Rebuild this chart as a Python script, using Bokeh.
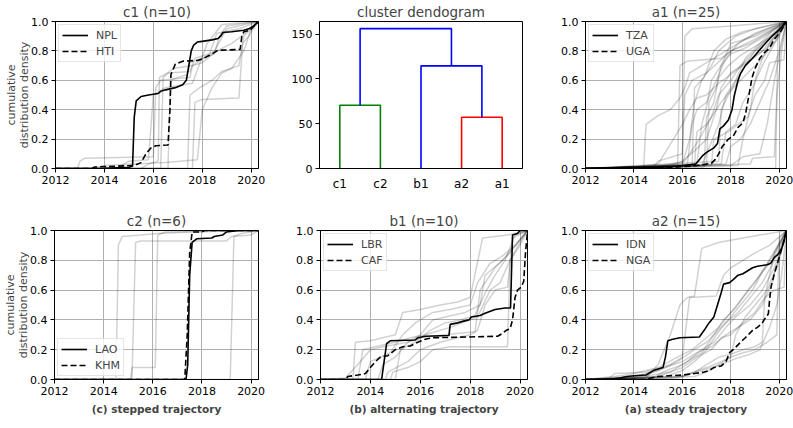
from bokeh.plotting import figure
from bokeh.layouts import row, column
from bokeh.models import FixedTicker, PrintfTickFormatter, Legend, LegendItem, LinearAxis
from bokeh.embed import file_html
from bokeh.resources import INLINE

FONT = "DejaVu Sans"
YEAR_TICKS = [2012, 2014, 2016, 2018, 2020]
Y_TICKS = [0.0, 0.2, 0.4, 0.6, 0.8, 1.0]
X_MIN, X_MAX = 2012.0, 2020.3

# ---------------- panel c1 (n=10) ----------------
NPL_X = [2012, 2014.0, 2015.0, 2015.15, 2015.22, 2015.3, 2015.5, 2015.8, 2016.2, 2016.3, 2016.5, 2016.9, 2017.2, 2017.35, 2017.45, 2017.55, 2017.65, 2017.8, 2018.0, 2018.4, 2018.65, 2018.75, 2018.85, 2019.2, 2019.7, 2019.9, 2020.1, 2020.3]
NPL_Y = [0, 0.002, 0.008, 0.015, 0.35, 0.46, 0.49, 0.5, 0.51, 0.525, 0.535, 0.55, 0.57, 0.6, 0.7, 0.8, 0.84, 0.86, 0.865, 0.875, 0.885, 0.9, 0.925, 0.93, 0.94, 0.95, 0.97, 1.0]
HTI_X = [2012, 2013.5, 2013.6, 2015.2, 2015.5, 2015.7, 2015.9, 2016.1, 2016.6, 2016.68, 2016.72, 2016.9, 2017.2, 2017.8, 2018.0, 2018.3, 2018.6, 2018.8, 2019.55, 2019.62, 2019.7, 2019.95, 2020.3]
HTI_Y = [0, 0, 0.01, 0.02, 0.04, 0.1, 0.14, 0.155, 0.16, 0.4, 0.64, 0.71, 0.73, 0.735, 0.745, 0.77, 0.8, 0.805, 0.81, 0.9, 0.93, 0.94, 1.0]
C1_GRAY = [
    [(2012, 0), (2012.9, 0), (2013.0, 0.05), (2013.2, 0.07), (2016.0, 0.08), (2016.1, 0.55), (2016.3, 0.6), (2017.5, 0.62), (2017.6, 0.7), (2018.5, 0.8), (2019.0, 0.95), (2020.3, 1.0)],
    [(2012, 0), (2015.5, 0), (2015.8, 0.03), (2016.2, 0.05), (2016.25, 0.62), (2016.6, 0.65), (2017.5, 0.66), (2017.7, 0.75), (2018.3, 0.78), (2018.6, 0.92), (2019.5, 0.95), (2020.3, 1.0)],
    [(2012, 0), (2016.3, 0), (2016.4, 0.62), (2016.8, 0.68), (2017.6, 0.7), (2018.0, 0.72), (2018.6, 0.8), (2019.2, 0.85), (2019.6, 0.9), (2020.3, 1.0)],
    [(2012, 0), (2017.4, 0), (2017.5, 0.5), (2017.9, 0.55), (2018.4, 0.6), (2018.8, 0.66), (2019.5, 0.7), (2019.7, 0.9), (2020.3, 1.0)],
    [(2012, 0), (2017.6, 0), (2017.7, 0.45), (2018.0, 0.47), (2019.5, 0.48), (2019.65, 0.85), (2019.9, 0.9), (2020.3, 1.0)],
    [(2012, 0), (2013.5, 0), (2014.0, 0.02), (2016.5, 0.04), (2017.8, 0.06), (2018.0, 0.4), (2018.4, 0.55), (2018.8, 0.65), (2019.2, 0.68), (2019.7, 0.8), (2020.0, 0.95), (2020.3, 1.0)],
    [(2012, 0), (2016.6, 0), (2016.7, 0.6), (2017.0, 0.62), (2017.4, 0.64), (2017.5, 0.72), (2018.5, 0.78), (2018.7, 0.9), (2019.0, 0.97), (2020.3, 1.0)],
    [(2012, 0), (2014.5, 0), (2015.0, 0.05), (2015.8, 0.06), (2016.0, 0.5), (2016.5, 0.55), (2017.6, 0.58), (2018.2, 0.85), (2018.8, 0.98), (2020.3, 1.0)],
]

# ---------------- panel c2 (n=6) ----------------
LAO_X = [2012, 2017.35, 2017.42, 2017.5, 2017.6, 2017.8, 2018.4, 2018.5, 2018.85, 2019.0, 2019.5, 2020.3]
LAO_Y = [0, 0, 0.1, 0.7, 0.92, 0.945, 0.95, 0.96, 0.97, 0.99, 1.0, 1.0]
KHM_X = [2012, 2017.3, 2017.4, 2017.5, 2017.6, 2018.0, 2018.1, 2020.3]
KHM_Y = [0, 0, 0.3, 0.85, 0.99, 0.99, 1.0, 1.0]
C2_GRAY = [
    [(2012, 0), (2014.5, 0), (2014.6, 0.9), (2014.75, 0.96), (2015.5, 0.97), (2016.2, 0.98), (2017.5, 0.99), (2020.3, 1.0)],
    [(2012, 0), (2015.15, 0), (2015.3, 0.92), (2015.5, 0.93), (2019.0, 0.93), (2019.2, 0.96), (2020.0, 0.97), (2020.3, 1.0)],
    [(2012, 0), (2015.1, 0), (2015.15, 0.08), (2016.1, 0.08), (2016.2, 0.97), (2016.5, 0.99), (2020.3, 1.0)],
    [(2012, 0), (2019.15, 0), (2019.3, 0.96), (2019.6, 0.98), (2020.3, 1.0)],
]

# ---------------- panel a1 (n=25) ----------------
TZA_X = [2012, 2014.0, 2015.0, 2015.5, 2016.0, 2016.55, 2016.7, 2016.85, 2017.0, 2017.3, 2017.45, 2017.55, 2017.7, 2017.9, 2018.05, 2018.15, 2018.3, 2018.4, 2018.6, 2018.9, 2019.15, 2019.45, 2019.7, 2019.9, 2020.1, 2020.3]
TZA_Y = [0, 0.003, 0.008, 0.012, 0.02, 0.03, 0.06, 0.09, 0.11, 0.14, 0.17, 0.27, 0.29, 0.33, 0.4, 0.5, 0.6, 0.645, 0.7, 0.75, 0.8, 0.855, 0.9, 0.93, 0.96, 1.0]
UGA_X = [2012, 2015.0, 2016.0, 2016.6, 2017.2, 2017.35, 2017.5, 2017.65, 2017.9, 2018.1, 2018.3, 2018.5, 2018.62, 2018.75, 2018.88, 2019.0, 2019.2, 2019.4, 2019.6, 2019.8, 2020.05, 2020.3]
UGA_Y = [0, 0.003, 0.012, 0.02, 0.035, 0.06, 0.1, 0.15, 0.2, 0.22, 0.28, 0.31, 0.38, 0.5, 0.62, 0.68, 0.75, 0.79, 0.82, 0.88, 0.93, 1.0]
A1_GRAY = [
    [(2012, 0), (2015.8, 0.01), (2015.9, 0.7), (2016.2, 0.73), (2017.6, 0.75), (2018.0, 0.8), (2018.8, 0.85), (2019.5, 0.92), (2020.3, 1)],
    [(2012, 0), (2016.0, 0.02), (2016.1, 0.9), (2016.4, 0.95), (2018.0, 0.97), (2020.3, 1)],
    [(2012, 0), (2014.4, 0.01), (2014.5, 0.3), (2015.0, 0.36), (2015.5, 0.4), (2015.9, 0.48), (2016.1, 0.55), (2016.3, 0.65), (2017.0, 0.72), (2017.8, 0.8), (2018.6, 0.88), (2019.5, 0.95), (2020.3, 1)],
    [(2012, 0), (2016.0, 0.03), (2016.3, 0.2), (2016.5, 0.45), (2016.8, 0.6), (2017.2, 0.7), (2017.5, 0.8), (2018.2, 0.9), (2019.0, 0.95), (2020.3, 1)],
    [(2012, 0), (2016.4, 0.02), (2016.5, 0.55), (2016.9, 0.62), (2017.3, 0.8), (2017.8, 0.88), (2018.5, 0.93), (2020.3, 1)],
    [(2012, 0), (2016.6, 0.03), (2016.8, 0.3), (2017.0, 0.42), (2017.2, 0.6), (2017.6, 0.7), (2018.0, 0.85), (2019.0, 0.9), (2020.3, 1)],
    [(2012, 0), (2017.0, 0.02), (2017.1, 0.45), (2017.4, 0.55), (2017.6, 0.7), (2018.0, 0.78), (2018.6, 0.82), (2019.4, 0.9), (2020.3, 1)],
    [(2012, 0), (2016.8, 0.02), (2017.0, 0.1), (2017.5, 0.3), (2017.8, 0.5), (2018.2, 0.6), (2018.6, 0.75), (2019.2, 0.85), (2019.8, 0.95), (2020.3, 1)],
    [(2012, 0), (2017.6, 0.03), (2017.8, 0.25), (2018.2, 0.3), (2018.5, 0.45), (2018.9, 0.55), (2019.3, 0.7), (2019.8, 0.85), (2020.3, 1)],
    [(2012, 0), (2015.0, 0.01), (2016.0, 0.05), (2016.5, 0.12), (2017.0, 0.2), (2017.4, 0.4), (2017.6, 0.55), (2018.0, 0.65), (2018.6, 0.72), (2019.3, 0.8), (2020.3, 1)],
    [(2012, 0), (2018.0, 0.02), (2018.5, 0.08), (2019.2, 0.1), (2019.5, 0.3), (2019.8, 0.6), (2020.1, 0.85), (2020.3, 1)],
    [(2012, 0), (2019.85, 0), (2019.95, 0.95), (2020.3, 1)],
    [(2012, 0), (2017.2, 0.02), (2017.3, 0.2), (2017.9, 0.25), (2018.7, 0.35), (2019.0, 0.5), (2019.4, 0.6), (2019.6, 0.72), (2020.2, 0.74), (2020.3, 1)],
    [(2012, 0), (2016.2, 0.02), (2016.4, 0.3), (2016.6, 0.4), (2017.0, 0.45), (2017.4, 0.6), (2017.8, 0.75), (2018.3, 0.85), (2019.0, 0.92), (2020.3, 1)],
    [(2012, 0), (2014.8, 0.01), (2015.0, 0.05), (2016.0, 0.1), (2016.1, 0.5), (2016.4, 0.6), (2017.0, 0.65), (2018.0, 0.8), (2019.0, 0.88), (2020.3, 1)],
    [(2012, 0), (2018.3, 0.02), (2018.5, 0.2), (2018.8, 0.4), (2019.0, 0.6), (2019.3, 0.75), (2019.6, 0.85), (2020.3, 1)],
    [(2012, 0), (2017.5, 0.05), (2017.6, 0.4), (2017.9, 0.5), (2018.3, 0.62), (2018.6, 0.7), (2019.0, 0.8), (2019.6, 0.9), (2020.3, 1)],
    [(2012, 0), (2018.8, 0.03), (2018.9, 0.07), (2019.8, 0.08), (2019.9, 0.5), (2020.1, 0.8), (2020.3, 1)],
    [(2012, 0), (2015.5, 0.02), (2016.1, 0.05), (2016.7, 0.2), (2017.2, 0.35), (2017.5, 0.5), (2018.0, 0.6), (2018.4, 0.7), (2019.0, 0.8), (2019.8, 0.92), (2020.3, 1)],
    [(2012, 0), (2016.9, 0.01), (2017.0, 0.35), (2017.3, 0.45), (2017.5, 0.62), (2017.9, 0.7), (2018.4, 0.77), (2019.0, 0.83), (2019.7, 0.9), (2020.3, 1)],
    [(2012, 0), (2017.8, 0.03), (2018.0, 0.15), (2018.4, 0.2), (2018.8, 0.3), (2019.2, 0.45), (2019.6, 0.6), (2020.0, 0.8), (2020.3, 1)],
    [(2012, 0), (2016.5, 0.02), (2016.6, 0.25), (2017.0, 0.3), (2017.6, 0.45), (2018.1, 0.55), (2018.7, 0.65), (2019.3, 0.75), (2020.0, 0.9), (2020.3, 1)],
    [(2012, 0), (2014.0, 0.01), (2015.0, 0.03), (2016.0, 0.3), (2016.3, 0.4), (2016.6, 0.48), (2017.0, 0.5), (2017.5, 0.58), (2018.5, 0.7), (2019.5, 0.82), (2020.3, 1)],
]

# ---------------- panel b1 (n=10) ----------------
LBR_X = [2012, 2014.45, 2014.55, 2014.65, 2014.8, 2015.8, 2015.9, 2016.2, 2017.15, 2017.2, 2017.5, 2017.7, 2017.95, 2018.05, 2018.4, 2018.6, 2019.0, 2019.4, 2019.62, 2019.7, 2019.9, 2020.0, 2020.3]
LBR_Y = [0, 0, 0.12, 0.24, 0.26, 0.265, 0.28, 0.29, 0.295, 0.37, 0.38, 0.39, 0.4, 0.42, 0.43, 0.445, 0.47, 0.48, 0.48, 0.97, 0.98, 1.0, 1.0]
CAF_X = [2012, 2013.0, 2013.1, 2013.5, 2013.8, 2014.0, 2014.2, 2014.4, 2014.7, 2015.0, 2015.3, 2015.6, 2015.9, 2016.2, 2016.5, 2019.1, 2019.3, 2019.45, 2019.6, 2019.7, 2019.8, 2019.9, 2020.05, 2020.15, 2020.22, 2020.3]
CAF_Y = [0, 0, 0.02, 0.03, 0.04, 0.08, 0.12, 0.15, 0.16, 0.2, 0.22, 0.225, 0.25, 0.27, 0.28, 0.29, 0.31, 0.33, 0.34, 0.4, 0.55, 0.6, 0.62, 0.66, 0.85, 1.0]
B1_GRAY = [
    [(2012, 0), (2013.3, 0), (2013.4, 0.25), (2014.0, 0.26), (2015.0, 0.3), (2015.3, 0.45), (2016.0, 0.47), (2016.8, 0.5), (2017.5, 0.52), (2018.0, 0.55), (2018.5, 0.95), (2019.5, 0.97), (2020.3, 1)],
    [(2012, 0), (2013.0, 0.01), (2013.5, 0.1), (2014.0, 0.2), (2014.5, 0.22), (2015.5, 0.25), (2016.0, 0.28), (2017.0, 0.3), (2018.2, 0.32), (2018.4, 0.6), (2019.0, 0.75), (2019.6, 0.85), (2020.3, 1)],
    [(2012, 0), (2014.3, 0), (2014.5, 0.1), (2015.0, 0.15), (2015.5, 0.25), (2016.0, 0.3), (2016.5, 0.4), (2017.0, 0.42), (2017.8, 0.45), (2018.4, 0.5), (2018.6, 0.7), (2019.3, 0.8), (2019.8, 0.9), (2020.3, 1)],
    [(2012, 0), (2014.8, 0), (2014.9, 0.05), (2015.5, 0.08), (2016.0, 0.12), (2016.5, 0.2), (2017.2, 0.22), (2019.5, 0.22), (2019.6, 0.8), (2020.0, 0.9), (2020.3, 1)],
    [(2012, 0), (2013.5, 0), (2013.7, 0.2), (2014.2, 0.22), (2015.0, 0.25), (2015.6, 0.28), (2016.2, 0.3), (2017.2, 0.35), (2018.0, 0.4), (2018.3, 0.42), (2018.8, 0.6), (2019.2, 0.65), (2019.6, 0.8), (2020.1, 0.95), (2020.3, 1)],
    [(2012, 0), (2014.6, 0), (2014.7, 0.05), (2015.5, 0.12), (2016.0, 0.2), (2016.8, 0.25), (2017.5, 0.28), (2018.0, 0.3), (2018.3, 0.33), (2018.6, 0.5), (2019.0, 0.6), (2019.5, 0.62), (2019.7, 0.95), (2020.3, 1)],
    [(2012, 0), (2013.8, 0), (2014.0, 0.12), (2014.8, 0.18), (2015.3, 0.3), (2015.8, 0.38), (2016.5, 0.45), (2017.2, 0.47), (2018.0, 0.5), (2018.3, 0.65), (2018.8, 0.78), (2019.3, 0.83), (2019.8, 0.9), (2020.3, 1)],
    [(2012, 0), (2015.0, 0), (2015.2, 0.2), (2015.8, 0.25), (2016.4, 0.33), (2017.0, 0.38), (2017.6, 0.4), (2018.2, 0.43), (2018.6, 0.58), (2019.0, 0.7), (2019.4, 0.8), (2019.8, 0.97), (2020.3, 1)],
]

# ---------------- panel a2 (n=15) ----------------
IDN_X = [2012, 2013.0, 2013.4, 2013.7, 2014.0, 2014.5, 2014.6, 2014.8, 2015.0, 2015.2, 2015.3, 2015.4, 2015.6, 2015.9, 2016.7, 2016.9, 2017.1, 2017.3, 2017.45, 2017.6, 2017.7, 2017.95, 2018.1, 2018.3, 2018.5, 2018.7, 2018.9, 2019.1, 2019.5, 2019.65, 2019.8, 2019.95, 2020.1, 2020.2, 2020.3]
IDN_Y = [0, 0.002, 0.01, 0.02, 0.025, 0.03, 0.04, 0.06, 0.07, 0.08, 0.15, 0.26, 0.27, 0.28, 0.285, 0.33, 0.38, 0.42, 0.5, 0.58, 0.64, 0.65, 0.67, 0.7, 0.71, 0.73, 0.75, 0.76, 0.77, 0.78, 0.82, 0.84, 0.88, 0.93, 1.0]
NGA_X = [2012, 2014.5, 2014.7, 2015.0, 2016.0, 2016.5, 2016.9, 2017.1, 2017.3, 2017.6, 2017.8, 2017.95, 2018.1, 2018.4, 2018.6, 2018.9, 2019.1, 2019.3, 2019.45, 2019.55, 2019.6, 2019.66, 2019.8, 2020.0, 2020.14, 2020.3]
NGA_Y = [0, 0, 0.01, 0.02, 0.03, 0.04, 0.05, 0.06, 0.08, 0.09, 0.12, 0.18, 0.2, 0.25, 0.28, 0.33, 0.35, 0.38, 0.42, 0.44, 0.53, 0.62, 0.71, 0.82, 0.9, 1.0]
A2_GRAY = [
    [(2012, 0), (2014.5, 0.01), (2015.0, 0.1), (2015.5, 0.3), (2015.9, 0.5), (2016.2, 0.55), (2016.5, 0.56), (2016.8, 0.88), (2017.5, 0.92), (2018.5, 0.95), (2020.3, 1)],
    [(2012, 0), (2013.2, 0.02), (2014.0, 0.04), (2015.0, 0.08), (2015.8, 0.15), (2016.4, 0.2), (2017.0, 0.28), (2017.5, 0.35), (2018.0, 0.45), (2018.5, 0.55), (2019.0, 0.65), (2019.5, 0.78), (2020.3, 1)],
    [(2012, 0), (2014.0, 0.01), (2015.5, 0.05), (2016.2, 0.12), (2016.8, 0.2), (2017.3, 0.25), (2017.8, 0.35), (2018.2, 0.42), (2018.8, 0.5), (2019.3, 0.6), (2019.8, 0.75), (2020.3, 1)],
    [(2012, 0), (2015.0, 0.02), (2016.0, 0.08), (2016.6, 0.15), (2017.2, 0.2), (2017.6, 0.28), (2018.0, 0.3), (2018.5, 0.38), (2019.0, 0.45), (2019.4, 0.55), (2019.8, 0.85), (2020.3, 1)],
    [(2012, 0), (2013.0, 0.01), (2013.2, 0.04), (2014.5, 0.05), (2015.5, 0.1), (2016.0, 0.15), (2016.3, 0.55), (2017.4, 0.56), (2017.7, 0.7), (2018.0, 0.75), (2018.5, 0.8), (2019.0, 0.85), (2019.6, 0.9), (2020.3, 1)],
    [(2012, 0), (2016.0, 0.02), (2016.5, 0.05), (2017.0, 0.1), (2017.5, 0.15), (2018.0, 0.17), (2018.5, 0.2), (2019.0, 0.22), (2019.3, 0.25), (2019.4, 0.55), (2019.8, 0.6), (2020.2, 0.62), (2020.3, 1)],
    [(2012, 0), (2014.8, 0.01), (2015.2, 0.05), (2016.0, 0.1), (2016.8, 0.18), (2017.3, 0.3), (2017.7, 0.4), (2018.2, 0.48), (2018.7, 0.6), (2019.2, 0.7), (2019.7, 0.8), (2020.3, 1)],
    [(2012, 0), (2015.8, 0.01), (2016.3, 0.04), (2017.0, 0.08), (2017.6, 0.12), (2018.0, 0.15), (2018.5, 0.18), (2019.0, 0.2), (2019.5, 0.25), (2019.9, 0.3), (2020.0, 0.95), (2020.3, 1)],
    [(2012, 0), (2015.3, 0.02), (2016.0, 0.06), (2016.5, 0.12), (2017.0, 0.2), (2017.4, 0.3), (2017.8, 0.38), (2018.3, 0.45), (2018.8, 0.55), (2019.3, 0.65), (2019.8, 0.8), (2020.3, 1)],
    [(2012, 0), (2013.5, 0.01), (2014.5, 0.03), (2015.3, 0.08), (2016.0, 0.12), (2016.6, 0.18), (2017.2, 0.22), (2017.8, 0.3), (2018.3, 0.35), (2018.8, 0.4), (2019.3, 0.5), (2019.7, 0.65), (2020.3, 1)],
    [(2012, 0), (2016.5, 0.02), (2017.0, 0.05), (2017.5, 0.1), (2018.0, 0.15), (2018.2, 0.3), (2018.6, 0.42), (2019.0, 0.5), (2019.5, 0.6), (2020.0, 0.8), (2020.3, 1)],
    [(2012, 0), (2014.0, 0.02), (2015.0, 0.06), (2015.8, 0.12), (2016.5, 0.2), (2017.0, 0.25), (2017.6, 0.35), (2018.0, 0.42), (2018.5, 0.52), (2018.9, 0.6), (2019.3, 0.72), (2019.8, 0.85), (2020.3, 1)],
    [(2012, 0), (2015.5, 0.01), (2016.2, 0.03), (2017.0, 0.07), (2017.6, 0.1), (2018.2, 0.14), (2018.8, 0.17), (2019.2, 0.2), (2019.6, 0.35), (2019.9, 0.5), (2020.1, 0.7), (2020.3, 1)],
]

# ---------------- dendrogram ----------------
LEAF_LABELS = ["c1", "c2", "b1", "a2", "a1"]
LEAF_POS = [5, 15, 25, 35, 45]
DENDRO_ICOORD = [[5, 5, 15, 15], [35, 35, 45, 45], [25, 25, 40, 40], [10, 10, 32.5, 32.5]]
DENDRO_DCOORD = [[0, 70.5, 70.5, 0], [0, 57.2, 57.2, 0], [0, 114.5, 114.5, 57.2], [70.5, 156.0, 156.0, 114.5]]
DENDRO_COLORS = ["#008000", "#ff0000", "#0000ff", "#0000ff"]
DENDRO_YTICKS = [0, 50, 100, 150]

YLABEL_LINES = ["cumulative", "distribution density"]
TICK_FS = "11px"


def style_axes(p):
    for ax in (p.xaxis[0], p.yaxis[0]):
        ax.major_label_text_font = FONT
        ax.major_label_text_font_size = TICK_FS
        ax.major_label_text_color = "black"
        ax.axis_line_color = "black"
        ax.major_tick_line_color = "black"
        ax.major_tick_out = 4
        ax.major_tick_in = 0
        ax.minor_tick_line_color = None
        ax.major_label_standoff = 3
    p.outline_line_color = "black"
    p.outline_line_width = 1
    p.title.text_font = FONT
    p.title.text_font_size = "13.5px"
    p.title.text_font_style = "normal"
    p.title.align = "center"
    p.title.standoff = 3


def cdf_fig(title, gray, sx, sy, dx, dy, names, loc, w, h, bl, br, bt, bb, ylabel=False, caption=None):
    p = figure(width=w, height=h, x_range=(X_MIN, X_MAX), y_range=(0, 1), title=title,
               output_backend="svg", toolbar_location=None,
               min_border_left=bl, min_border_right=br, min_border_top=bt, min_border_bottom=bb)
    p.xaxis.ticker = FixedTicker(ticks=YEAR_TICKS)
    p.yaxis.ticker = FixedTicker(ticks=Y_TICKS)
    p.yaxis.formatter = PrintfTickFormatter(format="%.1f")
    p.grid.grid_line_color = "#b0b0b0"
    p.grid.grid_line_width = 1
    gxs = [[pt[0] for pt in c] for c in gray]
    gys = [[pt[1] for pt in c] for c in gray]
    p.multi_line(gxs, gys, line_color="black", line_alpha=0.18, line_width=1.5)
    r1 = p.line(sx, sy, line_color="black", line_width=1.6)
    r2 = p.line(dx, dy, line_color="black", line_width=1.6, line_dash="6 3")
    leg = Legend(items=[LegendItem(label=names[0], renderers=[r1]),
                        LegendItem(label=names[1], renderers=[r2])],
                 location=loc)
    leg.label_text_font = FONT
    leg.label_text_font_size = "11px"
    leg.glyph_width = 26
    leg.glyph_height = 14
    leg.label_height = 14
    leg.spacing = 2
    leg.padding = 3
    leg.margin = 3
    leg.label_standoff = 8
    leg.border_line_color = "#cccccc"
    leg.border_line_width = 1
    leg.background_fill_alpha = 0.8
    p.add_layout(leg)
    style_axes(p)
    if ylabel:
        # inner line on the main axis, outer line on an extra tick-less axis
        p.yaxis.axis_label = YLABEL_LINES[1]
        p.yaxis.axis_label_text_font = FONT
        p.yaxis.axis_label_text_font_size = "11px"
        p.yaxis.axis_label_text_font_style = "normal"
        p.yaxis.axis_label_standoff = -3
        outer = LinearAxis(ticker=FixedTicker(ticks=[]), axis_label=YLABEL_LINES[0])
        outer.axis_line_color = None
        outer.major_tick_line_color = None
        outer.minor_tick_line_color = None
        outer.major_tick_out = 0
        outer.major_label_standoff = 0
        outer.axis_label_standoff = -2
        outer.axis_label_text_font = FONT
        outer.axis_label_text_font_size = "11px"
        outer.axis_label_text_font_style = "normal"
        p.add_layout(outer, "left")
    if caption:
        p.xaxis.axis_label = caption
        p.xaxis.axis_label_text_font = FONT
        p.xaxis.axis_label_text_font_size = "10.5px"
        p.xaxis.axis_label_text_font_style = "bold"
        p.xaxis.axis_label_standoff = 5
    return p


H1, H2 = 206, 214

p1 = cdf_fig("c1 (n=10)", C1_GRAY, NPL_X, NPL_Y, HTI_X, HTI_Y, ["NPL", "HTI"], "top_left",
             288, H1, 55, 30, 18, 38, ylabel=True)

# dendrogram
p2 = figure(width=265, height=H1, x_range=(0, 50), y_range=(0, 164), title="cluster dendogram",
            output_backend="svg", toolbar_location=None,
            min_border_left=29, min_border_right=31, min_border_top=18, min_border_bottom=38)
for xs, ys, c in zip(DENDRO_ICOORD, DENDRO_DCOORD, DENDRO_COLORS):
    p2.line(xs, ys, line_color=c, line_width=1.6)
p2.grid.grid_line_color = None
p2.xaxis.ticker = FixedTicker(ticks=LEAF_POS)
p2.xaxis.major_label_overrides = {pos: lab for pos, lab in zip(LEAF_POS, LEAF_LABELS)}
p2.yaxis.ticker = FixedTicker(ticks=DENDRO_YTICKS)
style_axes(p2)
p2.xaxis.major_tick_out = 0
p2.xaxis.major_label_text_font_size = "12px"
p2.xaxis.major_label_standoff = 8

p3 = cdf_fig("a1 (n=25)", A1_GRAY, TZA_X, TZA_Y, UGA_X, UGA_Y, ["TZA", "UGA"], "top_left",
             240, H1, 32, 7, 18, 38)

p4 = cdf_fig("c2 (n=6)", C2_GRAY, LAO_X, LAO_Y, KHM_X, KHM_Y, ["LAO", "KHM"], "bottom_left",
             288, H2, 54, 30, 24, 41, ylabel=True, caption="(c) stepped trajectory")
p5 = cdf_fig("b1 (n=10)", B1_GRAY, LBR_X, LBR_Y, CAF_X, CAF_Y, ["LBR", "CAF"], "top_left",
             265, H2, 32, 26, 24, 41, caption="(b) alternating trajectory")
p6 = cdf_fig("a2 (n=15)", A2_GRAY, IDN_X, IDN_Y, NGA_X, NGA_Y, ["IDN", "NGA"], "top_left",
             240, H2, 32, 7, 24, 41, caption="(a) steady trajectory")

layout = column(row(p1, p2, p3), row(p4, p5, p6))
open("out.html", "w").write(file_html(layout, INLINE))
